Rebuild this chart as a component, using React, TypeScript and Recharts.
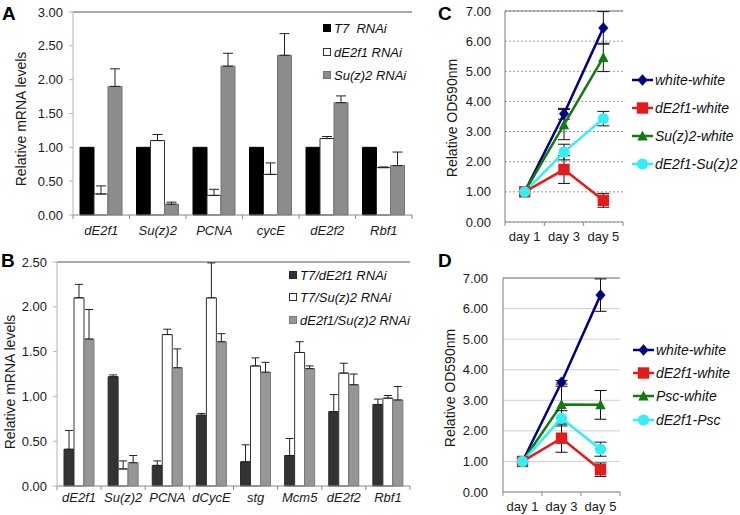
import React from 'react';
import {
  BarChart, Bar, LineChart, Line, XAxis, YAxis, CartesianGrid,
  ErrorBar, ReferenceLine, Legend,
} from 'recharts';

const FONT = '"Liberation Sans", Arial, Helvetica, sans-serif';

// ---------- Panel A ----------
const genesA = ['dE2f1', 'Su(z)2', 'PCNA', 'cycE', 'dE2f2', 'Rbf1'];
const t7A = [1.0, 1.0, 1.0, 1.0, 1.0, 1.0];
const dE2f1A = [0.31, 1.1, 0.29, 0.6, 1.13, 0.7];
const dE2f1ErrA = [0.12, 0.09, 0.09, 0.17, 0.03, 0.01];
const suz2A = [1.9, 0.16, 2.2, 2.36, 1.66, 0.73];
const suz2ErrA = [0.26, 0.03, 0.19, 0.32, 0.1, 0.2];
const yTicksA = [0, 0.5, 1, 1.5, 2, 2.5, 3];

// ---------- Panel B ----------
const genesB = ['dE2f1', 'Su(z)2', 'PCNA', 'dCycE', 'stg', 'Mcm5', 'dE2f2', 'Rbf1'];
const t7dE2f1B = [0.41, 1.22, 0.23, 0.79, 0.27, 0.34, 0.83, 0.91];
const t7dE2f1ErrB = [0.21, 0.02, 0.05, 0.02, 0.19, 0.19, 0.19, 0.06];
const t7Suz2B = [2.1, 0.19, 1.69, 2.1, 1.34, 1.49, 1.26, 0.98];
const t7Suz2ErrB = [0.15, 0.09, 0.06, 0.39, 0.09, 0.12, 0.11, 0.03];
const dE2f1Suz2B = [1.64, 0.26, 1.32, 1.61, 1.27, 1.31, 1.13, 0.96];
const dE2f1Suz2ErrB = [0.33, 0.08, 0.21, 0.09, 0.11, 0.03, 0.12, 0.15];
const yTicksB = [0, 0.5, 1, 1.5, 2, 2.5];

// ---------- Panels C & D ----------
const days = ['day 1', 'day 3', 'day 5'];
const yTicksCD = [0, 1, 2, 3, 4, 5, 6, 7];

const whiteC = [1.0, 3.59, 6.44];
const whiteErrC = [0, 0.18, 0.54];
const dE2f1C = [1.0, 1.74, 0.72];
const dE2f1ErrC = [0, 0.46, 0.23];
const suz2C = [1.0, 3.23, 5.46];
const suz2ErrC = [0, 0.5, 0.47];
const dE2f1Suz2C = [1.0, 2.32, 3.43];
const dE2f1Suz2ErrC = [0, 0.26, 0.24];

const whiteD = [1.0, 3.59, 6.44];
const whiteErrD = [0, 0.06, 0.53];
const dE2f1D = [1.0, 1.76, 0.73];
const dE2f1ErrD = [0, 0.46, 0.22];
const pscD = [1.0, 2.86, 2.85];
const pscErrD = [0, 0.6, 0.47];
const dE2f1PscD = [1.0, 2.41, 1.4];
const dE2f1PscErrD = [0, 0.25, 0.23];

// ---------- data tables ----------
const dataA = genesA.map((gene, i) => ({
  gene,
  t7: t7A[i],
  dE2f1: dE2f1A[i], dE2f1Err: [0, dE2f1ErrA[i]],
  suz2: suz2A[i], suz2Err: [0, suz2ErrA[i]],
}));

const dataB = genesB.map((gene, i) => ({
  gene,
  a: t7dE2f1B[i], aErr: [0, t7dE2f1ErrB[i]],
  b: t7Suz2B[i], bErr: [0, t7Suz2ErrB[i]],
  c: dE2f1Suz2B[i], cErr: [0, dE2f1Suz2ErrB[i]],
}));

const dataC = days.map((day, i) => ({
  day,
  s1: whiteC[i], e1: whiteErrC[i],
  s2: dE2f1C[i], e2: dE2f1ErrC[i],
  s3: suz2C[i], e3: suz2ErrC[i],
  s4: dE2f1Suz2C[i], e4: dE2f1Suz2ErrC[i],
}));

const dataD = days.map((day, i) => ({
  day,
  s1: whiteD[i], e1: whiteErrD[i],
  s2: dE2f1D[i], e2: dE2f1ErrD[i],
  s3: pscD[i], e3: pscErrD[i],
  s4: dE2f1PscD[i], e4: dE2f1PscErrD[i],
}));

// ---------- styles ----------
const NAVY = '#000080';
const RED = '#e31b1b';
const GREEN = '#117a11';
const CYAN = '#33eef5';

const lineCfgC = [
  { key: 's1', name: 'white-white', color: NAVY, shape: 'diamond' },
  { key: 's2', name: 'dE2f1-white', color: RED, shape: 'square' },
  { key: 's3', name: 'Su(z)2-white', color: GREEN, shape: 'triangle' },
  { key: 's4', name: 'dE2f1-Su(z)2', color: CYAN, shape: 'circle' },
];
const lineCfgD = [
  { key: 's1', name: 'white-white', color: NAVY, shape: 'diamond' },
  { key: 's2', name: 'dE2f1-white', color: RED, shape: 'square' },
  { key: 's3', name: 'Psc-white', color: GREEN, shape: 'triangle' },
  { key: 's4', name: 'dE2f1-Psc', color: CYAN, shape: 'circle' },
];
const barCfgA = [
  { key: 't7', name: 'T7  RNAi', fill: '#000000', stroke: '#000000' },
  { key: 'dE2f1', name: 'dE2f1 RNAi', fill: '#ffffff', stroke: '#333333' },
  { key: 'suz2', name: 'Su(z)2 RNAi', fill: '#8c8c8c', stroke: '#737373' },
];
const barCfgB = [
  { key: 'a', name: 'T7/dE2f1 RNAi', fill: '#333333', stroke: '#2a2a2a' },
  { key: 'b', name: 'T7/Su(z)2 RNAi', fill: '#ffffff', stroke: '#333333' },
  { key: 'c', name: 'dE2f1/Su(z)2 RNAi', fill: '#969696', stroke: '#7a7a7a' },
];

function markerEl(shape: string, cx: number, cy: number, color: string, key?: string) {
  switch (shape) {
    case 'diamond':
      return <path key={key} d={`M${cx},${cy - 5.5} L${cx + 4.8},${cy} L${cx},${cy + 5.5} L${cx - 4.8},${cy} Z`} fill={color} stroke={color} strokeWidth={0.5} />;
    case 'square':
      return <rect key={key} x={cx - 5.7} y={cy - 5.7} width={11.4} height={11.4} fill={color} />;
    case 'triangle':
      return <path key={key} d={`M${cx},${cy - 5.5} L${cx + 5.2},${cy + 4.5} L${cx - 5.2},${cy + 4.5} Z`} fill={color} />;
    default:
      return <circle key={key} cx={cx} cy={cy} r={5.6} fill={color} />;
  }
}

const makeDot = (shape: string, color: string) => (p: any) => {
  const key = `${shape}-${p.index}`;
  if (p.cx == null || p.cy == null) return <g key={key} />;
  return markerEl(shape, p.cx, p.cy, color, key);
};

// category tick: label at centre, small tick marks at the category boundaries
const makeCatTick = (band: number, count: number, dy: number, fontSize: number, italic: boolean, tickColor: string) =>
  (props: any) => {
    const { x, y, payload, index } = props;
    const left = x - band / 2;
    const right = x + band / 2;
    return (
      <g>
        <line x1={left} y1={y} x2={left} y2={y + 4} stroke={tickColor} />
        {index === count - 1 && <line x1={right} y1={y} x2={right} y2={y + 4} stroke={tickColor} />}
        <text x={x} y={y + dy} textAnchor="middle" fontSize={fontSize} fontFamily={FONT}
          fontStyle={italic ? 'italic' : 'normal'} fill="#1a1a1a">{payload.value}</text>
      </g>
    );
  };

const barLegend = (cfg: any[], rowH: number, fontSize: number, box: number) => (props: any) => {
  const payload: any[] = props.payload || [];
  const rows = cfg.map((c) => {
    const p = payload.find((q) => q.dataKey === c.key || q.value === c.name);
    return { c, label: p ? p.value : c.name };
  });
  return (
    <div style={{ fontFamily: FONT, fontSize, fontStyle: 'italic', color: '#111', lineHeight: 1 }}>
      {rows.map(({ c, label }) => (
        <div key={c.key} style={{ height: rowH, display: 'flex', alignItems: 'center', whiteSpace: 'pre' }}>
          <svg width={box + 3} height={box + 1} style={{ display: 'block' }}>
            <rect x={0.5} y={0.5} width={box - 1} height={box - 1} fill={c.fill} stroke={c.stroke} />
          </svg>
          <span>{label}</span>
        </div>
      ))}
    </div>
  );
};

const lineLegend = (cfg: any[], rowH: number, fontSize: number) => (props: any) => {
  const payload: any[] = props.payload || [];
  const rows = cfg.map((c) => {
    const p = payload.find((q) => q.dataKey === c.key || q.value === c.name);
    return { c, label: p ? p.value : c.name };
  });
  return (
    <div style={{ fontFamily: FONT, fontSize, fontStyle: 'italic', color: '#111', lineHeight: 1 }}>
      {rows.map(({ c, label }) => (
        <div key={c.key} style={{ height: rowH, display: 'flex', alignItems: 'center', whiteSpace: 'pre' }}>
          <svg width={23} height={14} style={{ display: 'block' }}>
            <line x1={0} y1={7} x2={21} y2={7} stroke={c.color} strokeWidth={2.5} />
            {markerEl(c.shape, 10.5, 7, c.color)}
          </svg>
          <span>{label}</span>
        </div>
      ))}
    </div>
  );
};

const fmt2 = (v: number) => v.toFixed(2);
const tickStyle = { fill: '#1a1a1a', fontSize: 13, fontFamily: FONT };

// layout constants (pixels)
const BAND_A = (412 - 73) / 6;
const BAND_B = (410 - 57) / 8;
const BAND_C = (623 - 505) / 3;
const BAND_D = (620 - 503) / 3;

function PanelA() {
  return (
    <BarChart width={430} height={250} data={dataA} margin={{ top: 12, right: 18, left: 13, bottom: 5 }} barSize={14} barGap={0}>
      <XAxis dataKey="gene" height={30} interval={0} tickSize={0} tickMargin={0} tickLine={false}
        axisLine={{ stroke: '#8a8a8a' }} tick={makeCatTick(BAND_A, 6, 20, 13, true, '#8a8a8a')} />
      <YAxis domain={[0, 3]} ticks={yTicksA} width={60} tickFormatter={fmt2} tickSize={4} tickMargin={6}
        axisLine={{ stroke: '#b5b5b5' }} tickLine={{ stroke: '#b5b5b5' }} tick={tickStyle} />
      <YAxis yAxisId="r" orientation="right" width={0} domain={[0, 1]} tick={false} tickLine={false} axisLine={{ stroke: '#808080' }} />
      <ReferenceLine y={3} stroke="#555555" />
      {barCfgA.map((c) => (
        <Bar key={c.key} dataKey={c.key} name={c.name} fill={c.fill} stroke={c.stroke} strokeWidth={1} isAnimationActive={false}>
          {c.key !== 't7' && <ErrorBar dataKey={`${c.key}Err`} direction="y" width={5} stroke="#222" strokeWidth={1} />}
        </Bar>
      ))}
      <Legend layout="vertical" align="center" verticalAlign="middle" content={barLegend(barCfgA, 23.5, 13, 8)}
        wrapperStyle={{ left: 323, top: 17, width: 110 }} />
    </BarChart>
  );
}

function PanelB() {
  return (
    <BarChart width={430} height={265} data={dataB} margin={{ top: 12, right: 20, left: 7, bottom: 4 }} barSize={10} barGap={0}>
      <XAxis dataKey="gene" height={25} interval={0} tickSize={0} tickMargin={0} tickLine={false}
        axisLine={{ stroke: '#8a8a8a' }} tick={makeCatTick(BAND_B, 8, 15.5, 13, true, '#8a8a8a')} />
      <YAxis domain={[0, 2.5]} ticks={yTicksB} width={50} tickFormatter={fmt2} tickSize={4} tickMargin={6}
        axisLine={{ stroke: '#b5b5b5' }} tickLine={{ stroke: '#b5b5b5' }} tick={tickStyle} />
      <YAxis yAxisId="r" orientation="right" width={0} domain={[0, 1]} tick={false} tickLine={false} axisLine={{ stroke: '#808080' }} />
      <ReferenceLine y={2.5} stroke="#555555" />
      {barCfgB.map((c) => (
        <Bar key={c.key} dataKey={c.key} name={c.name} fill={c.fill} stroke={c.stroke} strokeWidth={1} isAnimationActive={false}>
          <ErrorBar dataKey={`${c.key}Err`} direction="y" width={4} stroke="#222" strokeWidth={1} />
        </Bar>
      ))}
      <Legend layout="vertical" align="center" verticalAlign="middle" content={barLegend(barCfgB, 22.5, 13, 8)}
        wrapperStyle={{ left: 289, top: 14, width: 140 }} />
    </BarChart>
  );
}

function LinePanel({ data, cfg, height, margin, band, xh, ydy, tickMargin, dotted, legendPos, rowH }: any) {
  return (
    <LineChart width={310} height={height} data={data} margin={margin}>
      <CartesianGrid vertical={false} stroke={dotted ? '#9a9a9a' : '#cfcfcf'} strokeDasharray={dotted ? '2 2' : undefined} />
      <XAxis dataKey="day" height={xh} interval={0} tickSize={0} tickMargin={0} tickLine={false}
        padding={{ left: band / 2, right: band / 2 }}
        axisLine={{ stroke: '#8a8a8a' }} tick={makeCatTick(band, 3, ydy, 13, false, '#8a8a8a')} />
      <YAxis domain={[0, 7]} ticks={yTicksCD} width={40} tickFormatter={fmt2} tickSize={0} tickMargin={tickMargin}
        axisLine={{ stroke: '#7a7a7a' }} tickLine={false} tick={tickStyle} />
      <YAxis yAxisId="r" orientation="right" width={0} domain={[0, 1]} tick={false} tickLine={false} axisLine={{ stroke: '#7a7a7a' }} />
      <ReferenceLine y={7} stroke="#7a7a7a" />
      {cfg.map((c: any, i: number) => (
        <Line key={c.key} dataKey={c.key} name={c.name} stroke={c.color} strokeWidth={2.5} type="linear"
          dot={makeDot(c.shape, c.color)} activeDot={false} isAnimationActive={false}>
          <ErrorBar dataKey={`e${i + 1}`} direction="y" width={6} stroke="#111" strokeWidth={1} />
        </Line>
      ))}
      <Legend layout="vertical" align="center" verticalAlign="middle" content={lineLegend(cfg, rowH, 14)}
        wrapperStyle={{ left: legendPos[0], top: legendPos[1], width: 112 }} />
    </LineChart>
  );
}

export default function App() {
  return (
    <div style={{ position: 'absolute', left: 0, top: 0, width: 740, height: 515, background: '#fff', fontFamily: FONT, overflow: 'hidden' }}>
      <div style={{ position: 'absolute', left: 0, top: 0 }}><PanelA /></div>
      <div style={{ position: 'absolute', left: 0, top: 250 }}><PanelB /></div>
      <div style={{ position: 'absolute', left: 430, top: 0 }}>
        <LinePanel data={dataC} cfg={lineCfgC} height={250} margin={{ top: 11, right: 117, left: 35, bottom: 4 }}
          band={BAND_C} xh={24} ydy={19} tickMargin={14} dotted legendPos={[202, 66]} rowH={28} />
      </div>
      <div style={{ position: 'absolute', left: 430, top: 250 }}>
        <LinePanel data={dataD} cfg={lineCfgD} height={265} margin={{ top: 28, right: 120, left: 33, bottom: 3 }}
          band={BAND_D} xh={20} ydy={19} tickMargin={15} dotted={false} legendPos={[203, 88]} rowH={23.3} />
      </div>
      <svg width={740} height={515} style={{ position: 'absolute', left: 0, top: 0, pointerEvents: 'none' }}>
        <g fontFamily={FONT} fill="#000">
          <text x={2} y={20} fontSize={19} fontWeight="bold">A</text>
          <text x={1} y={267} fontSize={19} fontWeight="bold">B</text>
          <text x={438} y={20} fontSize={19} fontWeight="bold">C</text>
          <text x={438} y={267} fontSize={19} fontWeight="bold">D</text>
        </g>
        <g fontFamily={FONT} fontSize={14} fill="#1a1a1a" textAnchor="middle">
          <text transform="translate(21,119) rotate(-90)" dominantBaseline="central">Relative mRNA levels</text>
          <text transform="translate(10,382) rotate(-90)" dominantBaseline="central">Relative mRNA levels</text>
          <text transform="translate(452,118) rotate(-90)" dominantBaseline="central">Relative OD590nm</text>
          <text transform="translate(450,388) rotate(-90)" dominantBaseline="central">Relative OD590nm</text>
        </g>
      </svg>
    </div>
  );
}
